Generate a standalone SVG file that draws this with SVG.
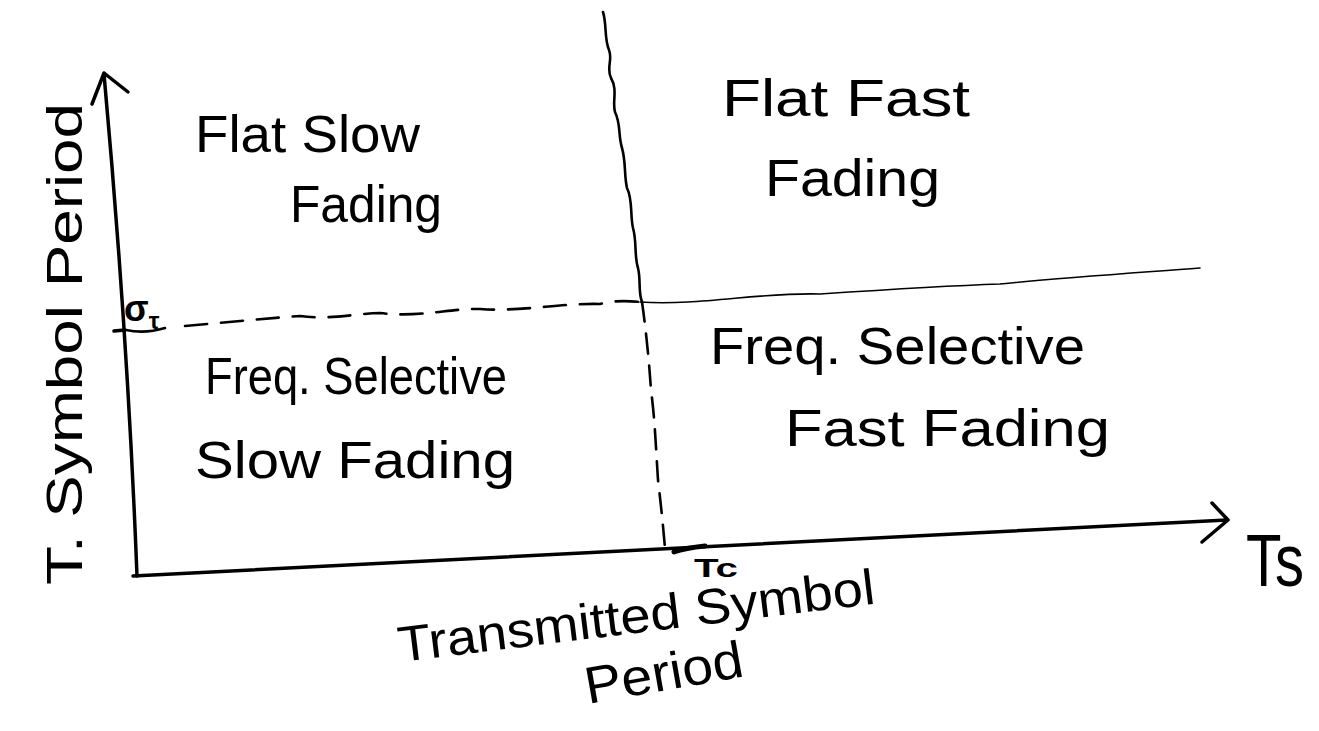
<svg xmlns="http://www.w3.org/2000/svg" width="1319" height="731" viewBox="0 0 1319 731">
  <style>
    .ink { fill: none; stroke: #000; stroke-linecap: round; stroke-linejoin: round; }
    .axis { stroke-width: 3.5; }
    .divider { stroke-width: 2.6; }
    .faint { stroke-width: 1.6; }
    .hand { font-family: "Liberation Sans", "DejaVu Sans", sans-serif; fill: #000; }
    .region { font-size: 52px; }
  </style>
  <rect width="1319" height="731" fill="#fff"/>

  <!-- axes and region boundaries -->
  <g id="connectors">
    <!-- vertical axis with open arrowhead -->
    <path class="ink axis" d="M137,576 C131,420 120,250 104,74"/>
    <path class="ink axis" d="M92,104 L104,73 L128,92"/>
    <!-- horizontal axis with open arrowhead -->
    <path class="ink axis" d="M133,576 L1227,520"/>
    <path class="ink axis" d="M1212,503 L1228,520 L1202,542"/>
    <!-- tick on vertical axis -->
    <path class="ink axis" d="M114,331 L125,330"/>
    <path class="ink divider" d="M126,330 C140,333 155,331 165,328"/>
    <!-- horizontal boundary: dashed on the left, faint wavy on the right -->
    <path class="ink divider" stroke-dasharray="22 14" d="M185,326 C230,322 270,318 300,316 C330,320 350,314 380,313 C420,318 450,308 480,309 C520,312 560,303 600,304 C615,300 630,301 640,302"/>
    <path class="ink faint" d="M640,302 C700,306 760,292 820,294 C880,290 940,286 1000,284 C1060,278 1120,274 1200,268"/>
    <!-- vertical boundary: wavy above, dashed below -->
    <path class="ink divider" d="M603,12 C607,25 604,38 609,50 C613,60 606,68 611,78 C618,90 612,102 615,112 C621,124 618,135 622,148 C626,162 624,175 627,188 C633,200 630,215 633,228 C637,242 634,255 638,268 C641,280 638,292 642,302"/>
    <path class="ink divider" stroke-dasharray="20 12" d="M642,302 C646,330 649,360 651,390 C655,420 656,450 658,480 C661,505 663,525 665,548"/>
    <!-- mark at Tc on horizontal axis -->
    <path class="ink" stroke-width="5" d="M674,552 C685,548 695,547 705,546"/>
  </g>

  <g id="region-flat-slow">
    <text class="hand region" x="195" y="152" textLength="225" lengthAdjust="spacingAndGlyphs">Flat Slow</text>
    <text class="hand region" x="290" y="222" font-size="56" textLength="152" lengthAdjust="spacingAndGlyphs">Fading</text>
  </g>

  <g id="region-flat-fast">
    <text class="hand region" x="722" y="116" textLength="248" lengthAdjust="spacingAndGlyphs">Flat Fast</text>
    <text class="hand region" x="765" y="196" font-size="56" textLength="175" lengthAdjust="spacingAndGlyphs">Fading</text>
  </g>

  <g id="region-selective-slow">
    <text class="hand region" x="205" y="394" textLength="302" lengthAdjust="spacingAndGlyphs">Freq. Selective</text>
    <text class="hand region" x="195" y="478" font-size="56" textLength="320" lengthAdjust="spacingAndGlyphs">Slow Fading</text>
  </g>

  <g id="region-selective-fast">
    <text class="hand region" x="710" y="364" textLength="375" lengthAdjust="spacingAndGlyphs">Freq. Selective</text>
    <text class="hand region" x="785" y="446" font-size="56" textLength="325" lengthAdjust="spacingAndGlyphs">Fast Fading</text>
  </g>

  <g id="label-x-axis">
    <text class="hand" font-size="50" transform="translate(400,662) rotate(-7)" textLength="480" lengthAdjust="spacingAndGlyphs">Transmitted Symbol</text>
    <text class="hand" font-size="52" transform="translate(588,704) rotate(-10)" textLength="160" lengthAdjust="spacingAndGlyphs">Period</text>
  </g>

  <g id="label-y-axis">
    <text class="hand" font-size="50" transform="translate(82,585) rotate(-90)" textLength="482" lengthAdjust="spacingAndGlyphs">T. Symbol Period</text>
  </g>

  <g id="label-ts">
    <text class="hand" font-size="74" x="1246" y="586" textLength="58" lengthAdjust="spacingAndGlyphs">Ts</text>
  </g>

  <g id="label-tc">
    <text class="hand" font-size="26" font-weight="bold" x="694" y="577" textLength="44" lengthAdjust="spacingAndGlyphs">Tc</text>
  </g>

  <g id="label-sigma">
    <text class="hand" font-size="36" font-weight="bold" x="124" y="321">σ<tspan font-size="24" dy="8">τ</tspan></text>
  </g>
</svg>
